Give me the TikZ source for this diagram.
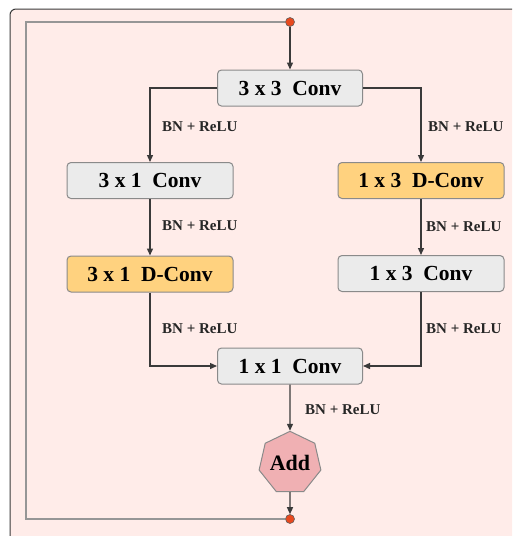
\documentclass[tikz,border=0pt]{standalone}
\usepackage{fontspec}
\setmainfont{Liberation Serif}
\usetikzlibrary{arrows.meta,shapes.geometric}
\definecolor{bgpink}{HTML}{FFECE9}
\definecolor{boxgray}{HTML}{EBEBEB}
\definecolor{boxedge}{HTML}{8A8A8A}
\definecolor{dconv}{HTML}{FFD27F}
\definecolor{addfill}{HTML}{F0B0B3}
\definecolor{dotred}{HTML}{E8491E}
\definecolor{linedark}{HTML}{3A3A3A}
\tikzset{
  conv/.style={draw=boxedge, line width=1pt, fill=boxgray, rounded corners=4pt,
    minimum height=36pt, inner sep=0pt, font=\fontsize{21.5}{23}\selectfont\bfseries},
  dconvbox/.style={conv, fill=dconv},
  wide/.style={minimum width=166pt},
  narrow/.style={minimum width=145pt},
  addnode/.style={draw=boxedge, line width=1pt, fill=addfill, regular polygon,
    regular polygon sides=7, minimum size=61pt, inner sep=0pt,
    font=\fontsize{22}{24}\selectfont\bfseries},
  dot/.style={circle, draw=linedark!80, line width=0.6pt, fill=dotred, minimum size=9pt, inner sep=0pt},
  arr/.style={draw=linedark, line width=1.3pt, -{Triangle[length=7pt,width=6pt]}},
  loopline/.style={draw=boxedge!90, line width=2pt},
  lbl/.style={anchor=west, inner sep=0pt, font=\fontsize{15}{17}\selectfont\bfseries, text=black!85}
}
\begin{document}
\begin{tikzpicture}[x=1pt,y=-1pt]
\useasboundingbox (0,0) rectangle (512,536);
\begin{scope}
\clip (0,0) rectangle (512,536);
\draw[fill=bgpink, draw=linedark, line width=1pt, rounded corners=6pt] (10,9) rectangle (540,560);
\end{scope}
\node[dot] (top) at (290,22) {};
\node[dot] (bot) at (290,519) {};
\node[conv,narrow] (c33) at (290,88) {3 x 3\ \ Conv};
\node[conv,wide] (c31) at (150,180.5) {3 x 1\ \ Conv};
\node[dconvbox,wide] (d31) at (150,274) {3 x 1\ \ D-Conv};
\node[dconvbox,wide] (d13) at (421,180.5) {1 x 3\ \ D-Conv};
\node[conv,wide] (c13) at (421,273.5) {1 x 3\ \ Conv};
\node[conv,narrow] (c11) at (290,366) {1 x 1\ \ Conv};
\node[addnode] (add) at (290,463) {Add};
\coordinate (lt) at (26,22);
\coordinate (lb) at (26,519);
\draw[loopline] (top) -- (lt) -- (lb) -- (bot);
\draw[arr] (top) -- (c33);
\draw[arr] (c33.west) -| (c31.north);
\draw[arr] (c33.east) -| (d13.north);
\draw[arr] (c31) -- (d31);
\draw[arr] (d13) -- (c13);
\draw[arr] (d31.south) |- (c11.west);
\draw[arr] (c13.south) |- (c11.east);
\draw[arr] (c11) -- (add);
\draw[arr] (add) -- (bot);
\node[lbl] (l1) at (162,127) {BN + ReLU};
\node[lbl] (l2) at (428,127) {BN + ReLU};
\node[lbl] (l3) at (162,226) {BN + ReLU};
\node[lbl] (l4) at (426,227) {BN + ReLU};
\node[lbl] (l5) at (162,329) {BN + ReLU};
\node[lbl] (l6) at (426,329) {BN + ReLU};
\node[lbl] (l7) at (305,410) {BN + ReLU};
\end{tikzpicture}
\end{document}
